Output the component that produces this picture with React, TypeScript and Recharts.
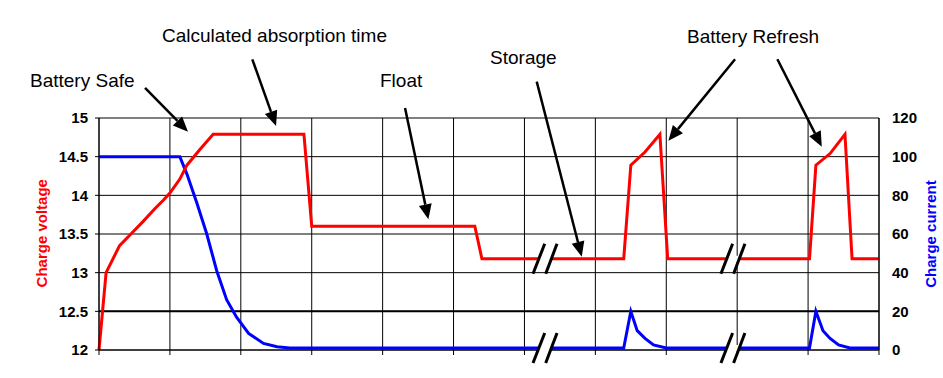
import React from "react";
import {
  LineChart, Line, XAxis, YAxis, CartesianGrid, ReferenceLine, ReferenceDot
} from "recharts";

// time runs in grid divisions (0..11), voltage on the left axis, current on the right
const voltageTime = [0, 0.1, 0.29, 0.44, 0.62, 0.79, 0.91, 1.0, 1.14, 1.24, 1.42, 1.61, 2.89, 3.0, 5.3, 5.4, 7.4, 7.5, 7.7, 7.91, 8.02, 10.02, 10.11, 10.31, 10.52, 10.62, 11];
const voltageValues = [12, 13.0, 13.35, 13.49, 13.66, 13.83, 13.94, 14.03, 14.21, 14.39, 14.59, 14.79, 14.79, 13.6, 13.6, 13.18, 13.18, 14.39, 14.56, 14.79, 13.18, 13.18, 14.39, 14.54, 14.79, 13.18, 13.18];

const currentTime = [0, 1.14, 1.24, 1.38, 1.52, 1.66, 1.8, 1.94, 2.11, 2.32, 2.51, 2.69, 7.4, 7.5, 7.59, 7.7, 7.82, 8.0, 10.02, 10.11, 10.21, 10.31, 10.43, 10.59, 11];
const currentValues = [100, 100, 91, 76, 60, 41, 26, 17, 8.6, 3.4, 1.7, 1, 1, 20, 10, 6, 2.6, 1, 1, 20, 10, 6, 2.6, 1, 1];

const gridTicks = [0, 1, 2, 3, 4, 5, 6, 7, 8, 9, 10, 11];
const voltageTicks = [12, 12.5, 13, 13.5, 14, 14.5, 15];
const currentTicks = [0, 20, 40, 60, 80, 100, 120];

const breakTimes = [6.29, 8.94];
const breakVoltage = 13.18;
const breakCurrent = 1;

const noteText = ["Battery Safe", "Calculated absorption time", "Float", "Storage", "Battery Refresh"];
const noteX = [-0.973, 0.889, 3.963, 5.515, 8.293];
const noteY = [15.4, 15.98, 15.4, 15.7, 15.97];

const arrowFrom = [[0.649, 15.388], [2.162, 15.759], [4.316, 15.129], [6.173, 15.47], [8.97, 15.759], [9.567, 15.759]];
const arrowTo = [[1.255, 14.823], [2.497, 14.897], [4.645, 13.69], [6.808, 13.206], [8.03, 14.706], [10.193, 14.629]];

const voltageData = voltageTime.map((t, i) => ({ t, v: voltageValues[i] }));
const currentData = currentTime.map((t, i) => ({ t, c: currentValues[i] }));

const FONT = "'Liberation Sans', Arial, sans-serif";

const Arrow = (p: any) => {
  const { x1, y1, x2, y2 } = p;
  const ang = Math.atan2(y2 - y1, x2 - x1);
  const len = 15;
  const half = 6.5;
  const bx = x2 - len * Math.cos(ang);
  const by = y2 - len * Math.sin(ang);
  const nx = -Math.sin(ang) * half;
  const ny = Math.cos(ang) * half;
  return (
    <g>
      <line x1={x1} y1={y1} x2={bx} y2={by} stroke="#000" strokeWidth={2.5} />
      <polygon points={`${x2},${y2} ${bx + nx},${by + ny} ${bx - nx},${by - ny}`} fill="#000" />
    </g>
  );
};

const BreakMark = ({ cx, cy }: any) => (
  <g>
    <polygon points={`${cx - 7.3},${cy + 3} ${cx + 5.2},${cy + 3} ${cx + 7.5},${cy - 3} ${cx - 5},${cy - 3}`} fill="#fff" />
    <line x1={cx - 12} y1={cy + 15} x2={cx - 0.3} y2={cy - 15} stroke="#000" strokeWidth={3} />
    <line x1={cx + 0.7} y1={cy + 15} x2={cx + 12} y2={cy - 15} stroke="#000" strokeWidth={3} />
  </g>
);

const noteShape = (text: string) => ({ cx, cy }: any) => (
  <text x={cx} y={cy} fontSize={19} fontFamily={FONT} fill="#000">{text}</text>
);

const titleShape = (text: string, color: string) => ({ cx, cy }: any) => (
  <text
    x={cx} y={cy} transform={`rotate(-90, ${cx}, ${cy})`}
    textAnchor="middle" dominantBaseline="central"
    fontSize={15} fontWeight="bold" fontFamily={FONT} fill={color}
  >
    {text}
  </text>
);

export default function App() {
  return (
    <div style={{ position: "absolute", left: 0, top: 0, background: "#fff" }}>
      <LineChart
        width={943}
        height={378}
        margin={{ top: 118, right: 14, bottom: 0, left: 39 }}
        style={{ fontFamily: FONT }}
      >
        <CartesianGrid yAxisId="left" stroke="#000" strokeWidth={1} />
        <XAxis
          dataKey="t" type="number" domain={[0, 11]} ticks={gridTicks}
          height={28} tickSize={5} tickFormatter={() => ""}
          axisLine={{ stroke: "#000" }} tickLine={{ stroke: "#000" }}
        />
        <YAxis
          yAxisId="left" domain={[12, 15]} ticks={voltageTicks} width={60}
          tickSize={4} tickMargin={7} axisLine={{ stroke: "#000" }} tickLine={{ stroke: "#000" }}
          tick={{ fill: "#000", fontSize: 15, fontWeight: "bold" }}
        />
        <YAxis
          yAxisId="right" orientation="right" domain={[0, 120]} ticks={currentTicks} width={50}
          tickSize={0} tickMargin={13} axisLine={{ stroke: "#000" }} tickLine={false}
          tick={{ fill: "#000", fontSize: 15, fontWeight: "bold" }}
        />
        <ReferenceLine yAxisId="left" y={12.5} stroke="#000" strokeWidth={2} />
        <Line
          yAxisId="right" data={currentData} dataKey="c" type="linear"
          stroke="#0000FF" strokeWidth={3} dot={false} isAnimationActive={false}
        />
        <Line
          yAxisId="left" data={voltageData} dataKey="v" type="linear"
          stroke="#FF0000" strokeWidth={3} dot={false} isAnimationActive={false}
        />
        {breakTimes.map((t) => (
          <ReferenceDot key={`bv-${t}`} yAxisId="left" x={t} y={breakVoltage} ifOverflow="visible" shape={BreakMark} />
        ))}
        {breakTimes.map((t) => (
          <ReferenceDot key={`bc-${t}`} yAxisId="right" x={t} y={breakCurrent} ifOverflow="visible" shape={BreakMark} />
        ))}
        {arrowFrom.map((f, i) => (
          <ReferenceLine
            key={`arrow-${i}`} yAxisId="left" ifOverflow="visible"
            segment={[{ x: f[0], y: f[1] }, { x: arrowTo[i][0], y: arrowTo[i][1] }]}
            shape={Arrow}
          />
        ))}
        {noteText.map((text, i) => (
          <ReferenceDot
            key={`note-${i}`} yAxisId="left" x={noteX[i]} y={noteY[i]}
            ifOverflow="visible" shape={noteShape(text)}
          />
        ))}
        <ReferenceDot yAxisId="left" x={-0.808} y={13.51} ifOverflow="visible" shape={titleShape("Charge voltage", "#FF0000")} />
        <ReferenceDot yAxisId="left" x={11.72} y={13.5} ifOverflow="visible" shape={titleShape("Charge current", "#0000FF")} />
      </LineChart>
    </div>
  );
}
